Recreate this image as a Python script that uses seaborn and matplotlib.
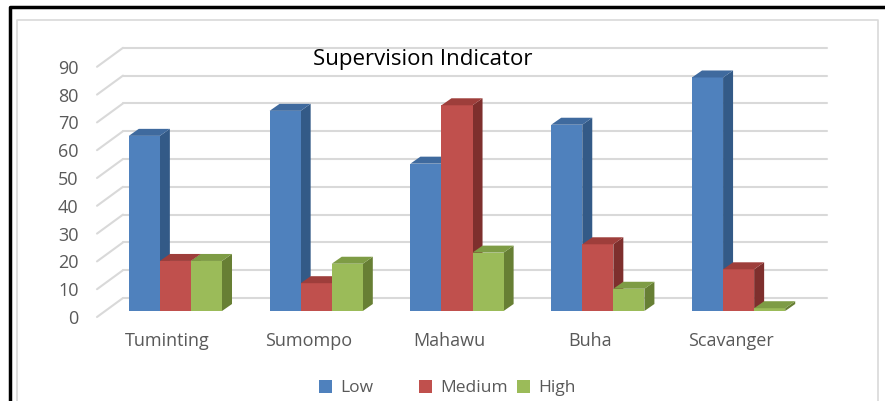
import matplotlib
matplotlib.use('Agg')
import matplotlib.pyplot as plt
import matplotlib.transforms as mtransforms
from matplotlib.patches import Polygon, Patch
from matplotlib.lines import Line2D
import seaborn as sns
import pandas as pd

# data
categories = ['Tuminting', 'Sumompo', 'Mahawu', 'Buha', 'Scavanger']
levels = ['Low', 'Medium', 'High']
low = [63, 72, 53, 67, 84]
medium = [18, 10, 74, 24, 15]
high = [18, 17, 21, 8, 1]

front_colors = ['#4F81BD', '#C0504D', '#9BBB59']
top_colors = ['#3F6A9E', '#9E3E3B', '#7E9C45']
side_colors = ['#335A87', '#7E2F2D', '#677F34']

rows = []
for i, c in enumerate(categories):
    rows.append({'Lokasi': c, 'Level': 'Low', 'Nilai': low[i]})
    rows.append({'Lokasi': c, 'Level': 'Medium', 'Nilai': medium[i]})
    rows.append({'Lokasi': c, 'Level': 'High', 'Nilai': high[i]})
df = pd.DataFrame(rows)

sns.set_style('white')
plt.rcParams['font.family'] = ['Open Sans', 'DejaVu Sans']

fig = plt.figure(figsize=(8.85, 4.01), dpi=100)
ax = fig.add_axes([105 / 885, 90 / 401, 704 / 885, 250.2 / 401])

sns.barplot(data=df, x='Lokasi', y='Nilai', hue='Level', hue_order=levels,
            palette=front_colors, saturation=1, width=0.662, gap=0, linewidth=0,
            legend=False, ax=ax, zorder=3)

ax.set_xlim(-0.5, 4.5)
ax.set_ylim(0, 90)
ax.set_xlabel('')
ax.set_ylabel('')
for s in ax.spines.values():
    s.set_visible(False)
ax.tick_params(length=0)

# pixel -> data scale
p0 = ax.transData.transform((0, 0))
p1 = ax.transData.transform((1, 1))
sx = p1[0] - p0[0]
sy = p1[1] - p0[1]

# back wall grid lines with diagonal floor lines
yticks = list(range(0, 100, 10))
gcol = '#D9D9D9'
for v in yticks:
    ax.plot([-0.5 + 18 / sx, 4.5 + 18 / sx], [v + 13 / sy, v + 13 / sy],
            color=gcol, lw=1.5, zorder=1, clip_on=False)
    ax.plot([-0.5 - 8 / sx, -0.5 + 18 / sx], [v - 6 / sy, v + 13 / sy],
            color=gcol, lw=1.5, zorder=1, clip_on=False)

# 3d faces for every bar
ddx = 10 / sx
ddy = 7 / sy
z = 3
for gi in range(len(categories)):
    for hi, cont in enumerate(ax.containers):
        bar = cont.patches[gi]
        x0 = bar.get_x()
        x1 = x0 + bar.get_width()
        h = bar.get_height()
        z += 1
        bar.set_zorder(z)
        side = Polygon([(x1, 0), (x1, h), (x1 + ddx, h + ddy), (x1 + ddx, ddy)],
                       closed=True, facecolor=side_colors[hi], edgecolor='none',
                       zorder=z - 0.5, clip_on=False)
        top = Polygon([(x0, h), (x1, h), (x1 + ddx, h + ddy), (x0 + ddx, h + ddy)],
                      closed=True, facecolor=top_colors[hi], edgecolor='none',
                      zorder=z + 0.5, clip_on=False)
        ax.add_patch(side)
        ax.add_patch(top)
        z += 1

# tick labels
ax.set_yticks(yticks)
ax.set_yticklabels([str(v) for v in yticks], fontsize=13, color='#595959')
ax.tick_params(axis='y', pad=19)
yoff = mtransforms.ScaledTranslation(0, -6 / 100, fig.dpi_scale_trans)
for lab in ax.get_yticklabels():
    lab.set_transform(lab.get_transform() + yoff)

ax.set_xticks(range(len(categories)))
ax.set_xticklabels(categories, fontsize=13, color='#595959')
ax.tick_params(axis='x', pad=15)
xoff = mtransforms.ScaledTranslation(-8 / 100, 0, fig.dpi_scale_trans)
for lab in ax.get_xticklabels():
    lab.set_transform(lab.get_transform() + xoff)

fig.text(423 / 885, 1 - 60 / 401, 'Supervision Indicator', ha='center',
         va='center', fontsize=16, color='black')

# legend entries, placed one by one like the original
leg_x = [319, 419, 517]
for i in range(3):
    h = Patch(facecolor=front_colors[i], edgecolor='none', label=levels[i])
    fig.legend(handles=[h], loc='center left',
               bbox_to_anchor=(leg_x[i] / 885, 1 - 388 / 401),
               frameon=False, fontsize=12.5, handlelength=0.75, handleheight=0.75,
               handletextpad=0.45, borderpad=0, borderaxespad=0,
               labelcolor='#595959')

# frames
W, H = 885, 401
fig.add_artist(Line2D([17 / W, 17 / W, 878 / W, 878 / W],
                      [0, 1 - 19.5 / H, 1 - 19.5 / H, 0],
                      transform=fig.transFigure, color='#D9D9D9', lw=1.2))
fig.add_artist(Line2D([9.5 / W, 9.5 / W, 1.0], [0, 1 - 7 / H, 1 - 7 / H],
                      transform=fig.transFigure, color='black', lw=2.5))

fig.savefig('out.png', dpi=100)
